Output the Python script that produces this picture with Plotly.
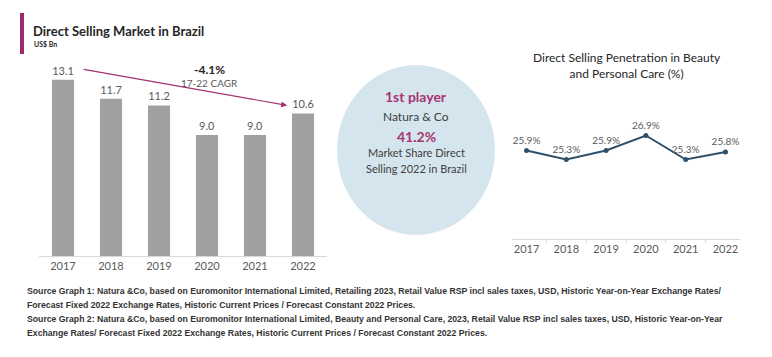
import plotly.graph_objects as go

W, H = 772, 357

years = ["2017", "2018", "2019", "2020", "2021", "2022"]
market_bn = [13.1, 11.7, 11.2, 9.0, 9.0, 10.6]
penetration = [25.9, 25.3, 25.9, 26.9, 25.3, 25.8]
cagr_text = "-4.1%"
cagr_label = "17-22 CAGR"
share_text = "41.2%"
footer_lines = [
    "Source Graph 1: Natura &Co, based on Euromonitor International Limited, Retailing 2023, Retail Value RSP incl sales taxes, USD, Historic Year-on-Year Exchange Rates/",
    "Forecast Fixed 2022 Exchange Rates, Historic Current Prices / Forecast Constant 2022 Prices.",
    "Source Graph 2: Natura &Co, based on Euromonitor International Limited, Beauty and Personal Care, 2023, Retail Value RSP incl sales taxes, USD, Historic Year-on-Year",
    "Exchange Rates/ Forecast Fixed 2022 Exchange Rates, Historic Current Prices / Forecast Constant 2022 Prices.",
]

def px_x(x):
    return x / W

def px_y(y):
    return 1 - y / H

FONT = "Lato, 'Open Sans', sans-serif"
GRAY_TXT = "#595959"
MAGENTA = "#A3316F"

fig = go.Figure()

fig.add_trace(go.Bar(
    x=years, y=market_bn, xaxis="x", yaxis="y",
    marker=dict(color="#A0A0A0", line=dict(width=0)),
    text=[f"{v:.1f}" for v in market_bn], textposition="outside",
    textfont=dict(size=11, color=GRAY_TXT, family=FONT),
    cliponaxis=False, width=0.46, showlegend=False, hoverinfo="skip",
))

fig.add_trace(go.Scatter(
    x=years, y=penetration, xaxis="x2", yaxis="y2",
    mode="lines+markers+text",
    line=dict(color="#2F5069", width=2),
    marker=dict(size=5, color="#2F5069"),
    text=[f"{v:.1f}%" for v in penetration], textposition="top center",
    textfont=dict(size=10, color=GRAY_TXT, family=FONT),
    cliponaxis=False, showlegend=False, hoverinfo="skip",
))

fig.update_layout(
    width=W, height=H, margin=dict(l=0, r=0, t=0, b=0),
    paper_bgcolor="white", plot_bgcolor="white",
    font=dict(family=FONT, color=GRAY_TXT),
    xaxis=dict(domain=[px_x(39), px_x(327)], anchor="y", showgrid=False,
               showline=True, linecolor="#D9D9D9", linewidth=1, ticks="",
               tickfont=dict(size=11, color=GRAY_TXT, family=FONT)),
    yaxis=dict(domain=[px_y(256), px_y(61)], anchor="x", range=[0, 14.5],
               visible=False, showgrid=False),
    xaxis2=dict(domain=[px_x(512), px_x(740)], anchor="y2", showgrid=False,
                showline=True, linecolor="#D9D9D9", linewidth=1,
                ticks="outside", ticklen=3, tickcolor="#D9D9D9",
                tickson="boundaries",
                tickfont=dict(size=11, color=GRAY_TXT, family=FONT)),
    yaxis2=dict(domain=[px_y(239), px_y(119)], anchor="x2", range=[20, 28],
                visible=False, showgrid=False),
)

# Title accent bar
fig.add_shape(type="rect", xref="paper", yref="paper",
              x0=px_x(20), x1=px_x(24), y0=px_y(54), y1=px_y(13),
              fillcolor="#9E2A6B", line=dict(width=0))

# Ellipse
fig.add_shape(type="circle", xref="paper", yref="paper",
              x0=px_x(337), x1=px_x(495), y0=px_y(235), y1=px_y(65),
              fillcolor="#D5E5EE", line=dict(width=0), layer="below")

ann = []
ann.append(dict(text="<b>Direct Selling Market in Brazil</b>", x=px_x(31), y=px_y(31),
                xanchor="left", yanchor="middle", font=dict(size=13, color="#262626", family=FONT)))
ann.append(dict(text="<b>US$ Bn</b>", x=px_x(32), y=px_y(44),
                xanchor="left", yanchor="middle", font=dict(size=7, color="#262626", family=FONT)))
ann.append(dict(text=f"<b>{cagr_text}</b>", x=px_x(209), y=px_y(70),
                xanchor="center", yanchor="middle", font=dict(size=12, color="#262626", family=FONT)))
ann.append(dict(text=cagr_label, x=px_x(209), y=px_y(83),
                xanchor="center", yanchor="middle", font=dict(size=10, color=GRAY_TXT, family=FONT)))

# CAGR arrow (from above first bar to above last bar)
ann.append(dict(x=4.67, y=market_bn[-1] + 0.6, xref="x", yref="y",
                ax=0.4, ay=market_bn[0] + 0.8, axref="x", ayref="y",
                text="", showarrow=True, arrowhead=2, arrowsize=1, arrowwidth=1.2,
                arrowcolor=MAGENTA))

# Ellipse text
cx = px_x(416)
ann.append(dict(text="<b>1st player</b>", x=cx, y=px_y(97), xanchor="center", yanchor="middle",
                font=dict(size=14, color="#A8336F", family=FONT)))
ann.append(dict(text="Natura & Co", x=cx, y=px_y(117), xanchor="center", yanchor="middle",
                font=dict(size=12, color="#404040", family=FONT)))
ann.append(dict(text=f"<b>{share_text}</b>", x=cx, y=px_y(136), xanchor="center", yanchor="middle",
                font=dict(size=14, color="#A8336F", family=FONT)))
ann.append(dict(text="Market Share Direct", x=cx, y=px_y(152), xanchor="center", yanchor="middle",
                font=dict(size=11, color="#404040", family=FONT)))
ann.append(dict(text="Selling 2022 in Brazil", x=cx, y=px_y(168), xanchor="center", yanchor="middle",
                font=dict(size=11, color="#404040", family=FONT)))

# Line chart title
ann.append(dict(text="Direct Selling Penetration in Beauty<br>and Personal Care (%)",
                x=px_x(627), y=px_y(65), xanchor="center", yanchor="middle", align="center",
                font=dict(size=12, color="#262626", family=FONT)))

# Footer
for i, line in enumerate(footer_lines):
    ann.append(dict(text=f"<b>{line}</b>", x=px_x(25), y=px_y(291 + 14 * i),
                    xanchor="left", yanchor="middle", align="left",
                    font=dict(size=8.7, color="#333333", family="'Liberation Sans', Arial, sans-serif")))

for a in ann:
    a.setdefault("xref", "paper")
    a.setdefault("yref", "paper")
    a.setdefault("showarrow", False)
fig.update_layout(annotations=ann)

fig.write_html("out.html", config={"displayModeBar": False},
               post_script="document.body.style.margin='0';document.body.style.padding='0';")
